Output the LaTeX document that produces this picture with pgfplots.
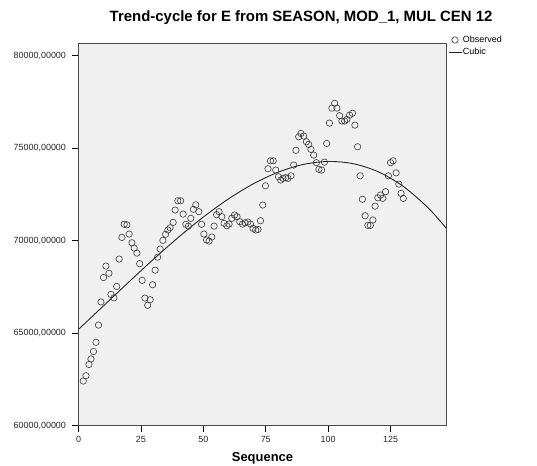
\documentclass[border=0pt]{standalone}
\usepackage{fontspec}
\setmainfont{Liberation Sans}
\usepackage{pgfplots}
\usepackage{pgfplotstable}
\pgfplotsset{compat=1.18}
\definecolor{plotbg}{HTML}{F0F0F0}
\definecolor{markc}{HTML}{3A3A3A}
\definecolor{framec}{HTML}{4A4A4A}
\pgfplotsset{
  lineleg/.style={legend image code/.code={\draw[##1] (0bp,0bp) -- (13bp,0bp);}},
  markleg/.style={legend image code/.code={\draw[##1] plot coordinates {(6.5bp,0bp)};}},
}

\pgfplotstableread{
t v
1.9 62405
3.0 62690
4.2 63300
5.0 63600
6.0 64000
7.0 64500
8.0 65430
9.0 66680
10.0 68000
11.0 68620
12.2 68230
13.0 67090
14.2 66900
15.3 67520
16.3 69000
17.4 70170
18.3 70880
19.4 70850
20.3 70350
21.4 69880
22.3 69590
23.4 69320
24.5 68750
25.5 67850
26.6 66890
27.7 66500
28.7 66800
29.7 67610
30.7 68400
31.7 69100
32.7 69540
33.8 70010
34.9 70340
35.8 70570
36.7 70690
37.9 70980
38.7 71650
39.8 72150
40.9 72150
41.9 71430
43.0 70880
44.0 70780
45.0 71200
46.0 71690
47.0 71930
48.2 71560
49.3 70880
50.2 70350
51.3 70030
52.3 69970
53.4 70190
54.3 70780
55.3 71400
56.3 71560
57.4 71290
58.3 70930
59.4 70800
60.3 70890
61.4 71200
62.5 71380
63.5 71290
64.6 71020
65.7 70890
66.7 70960
67.8 71000
68.9 70890
69.9 70660
71.0 70570
71.9 70600
72.9 71070
73.8 71920
74.9 72960
75.9 73880
76.9 74310
78.0 74310
79.0 73810
80.1 73450
81.0 73270
81.9 73360
83.0 73400
83.9 73360
85.1 73500
86.2 74080
87.1 74880
88.2 75610
89.1 75790
90.2 75650
91.3 75340
92.2 75200
93.1 74930
94.2 74620
95.3 74210
96.3 73850
97.4 73810
98.5 74240
99.4 75250
100.5 76350
101.5 77160
102.6 77420
103.5 77160
104.6 76750
105.5 76460
106.6 76460
107.5 76550
108.6 76780
109.7 76880
110.7 76240
111.8 75070
112.8 73500
113.7 72230
114.8 71340
115.9 70820
116.9 70820
117.9 71110
118.8 71860
119.9 72310
121.0 72460
121.9 72280
123.0 72640
124.1 73500
125.0 74210
126.0 74310
127.2 73660
128.3 73050
129.2 72550
130.1 72280
}\obs

\pgfplotstableread{
t v
0 65200
10 66466
20 67738
30 68984
40 70172
50 71270
60 72245
70 73065
80 73698
90 74113
100 74276
110 74156
120 73721
130 72938
140 71775
147.4 70651
}\cubic

\begin{document}
\begin{tikzpicture}
\useasboundingbox (-78.5bp,-40.5bp) rectangle (458.5bp,425.5bp);
\begin{axis}[
  at={(0,0)}, anchor=south west,
  scale only axis,
  width=368bp, height=382.5bp,
  xmin=0, xmax=147.4,
  ymin=60000, ymax=80680,
  xtick={0,25,50,75,100,125},
  ytick={60000,65000,70000,75000,80000},
  xtick pos=bottom, ytick pos=left,
  tick align=outside,
  major tick length=6.5bp,
  tick style={black, line width=0.6pt},
  axis line style={framec, line width=0.9pt},
  axis background/.style={fill=plotbg},
  /pgf/number format/assume math mode=true,
  yticklabel style={xshift=-2.5bp, /pgf/number format/.cd, fixed, fixed zerofill, precision=5, use comma, 1000 sep={}},
  xticklabel style={yshift=-1bp, /pgf/number format/.cd, 1000 sep={}},
  scaled y ticks=false,
  ticklabel style={font=\fontsize{9}{10}\selectfont, text=black!85},
  title={\textbf{Trend-cycle for E from SEASON, MOD\_1, MUL CEN 12}},
  title style={at={(0.605,1)}, anchor=base, yshift=16bp, font=\fontsize{15}{18}\selectfont},
  xlabel={\textbf{Sequence}},
  xlabel style={at={(axis description cs:0.5,0)}, anchor=base, yshift=-36bp, font=\fontsize{13}{15}\selectfont},
  legend style={at={(1.001,1.024)}, anchor=north west, draw=none, fill=none,
    font=\fontsize{9}{10}\selectfont, inner sep=1pt, row sep=2.5bp,
    nodes={inner sep=1pt}},
  legend cell align=left,
  clip=true,
]
\addplot[only marks, mark=o, mark size=3.2bp, mark options={draw=markc, line width=0.6pt}, markleg] table[x=t, y=v] {\obs};
\addlegendentry{Observed}
\addplot[black!85, line width=0.9pt, smooth, no marks, lineleg] table[x=t, y=v] {\cubic};
\addlegendentry{Cubic}
\end{axis}
\end{tikzpicture}
\end{document}
